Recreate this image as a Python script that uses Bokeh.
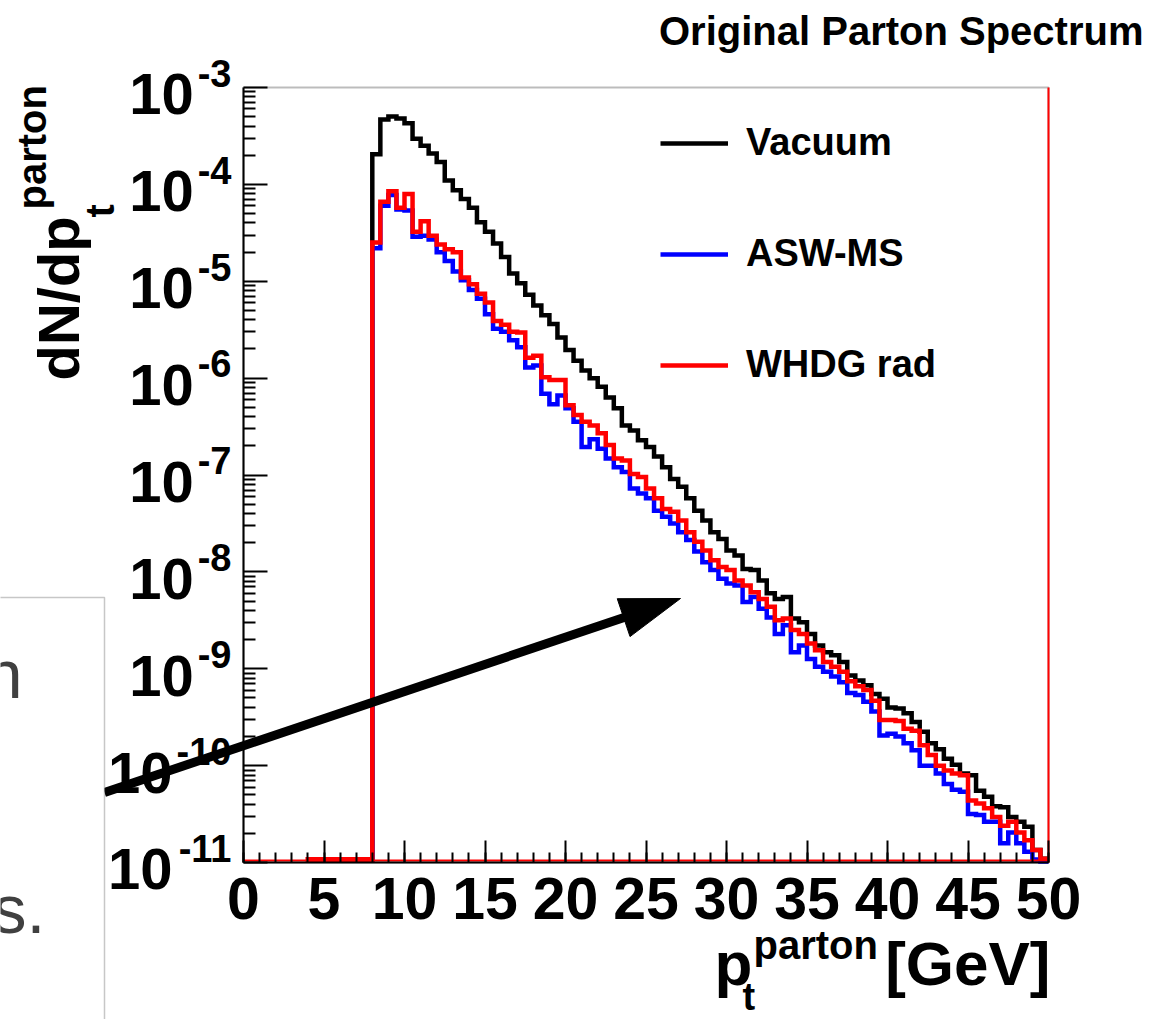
import math
from bokeh.plotting import figure
from bokeh.models import (Range1d, FixedTicker, Label, BoxAnnotation, Legend, LegendItem,
                          CustomJSTickFormatter)
from bokeh.embed import file_html
from bokeh.resources import INLINE

# ---------------- data (log10 of dN/dpt per 0.5 GeV bin) ----------------
bin_low = 8.0
bin_width = 0.5
n_bins = 84

vacuum_log10 = [
    -3.69, -3.33, -3.30, -3.32, -3.37, -3.53, -3.60, -3.68, -3.77, -3.96,
    -4.06, -4.15, -4.24, -4.39, -4.49, -4.61, -4.75, -4.92, -5.02, -5.14,
    -5.25, -5.35, -5.44, -5.58, -5.71, -5.82, -5.92, -6.00, -6.09, -6.20,
    -6.31, -6.49, -6.54, -6.64, -6.71, -6.81, -6.92, -7.04, -7.12, -7.24,
    -7.37, -7.47, -7.59, -7.66, -7.78, -7.83, -7.97, -7.98, -8.09, -8.22,
    -8.28, -8.26, -8.48, -8.52, -8.64, -8.76, -8.83, -8.86, -8.93, -9.07,
    -9.12, -9.17, -9.26, -9.31, -9.40, -9.41, -9.46, -9.55, -9.65, -9.77,
    -9.83, -9.93, -9.99, -10.08, -10.10, -10.26, -10.32, -10.42, -10.43, -10.53,
    -10.58, -10.63, -10.87, -10.96]

asw_ms_log10 = [
    -4.66, -4.22, -4.11, -4.26, -4.27, -4.54, -4.53, -4.57, -4.70, -4.79,
    -4.90, -4.99, -5.09, -5.18, -5.34, -5.49, -5.52, -5.61, -5.68, -5.89,
    -5.87, -6.16, -6.27, -6.18, -6.31, -6.45, -6.71, -6.63, -6.73, -6.83,
    -6.92, -6.97, -7.14, -7.19, -7.24, -7.37, -7.43, -7.50, -7.59, -7.67,
    -7.79, -7.90, -7.98, -8.07, -8.12, -8.14, -8.31, -8.26, -8.38, -8.47,
    -8.64, -8.55, -8.83, -8.76, -8.90, -8.98, -9.03, -9.08, -9.14, -9.25,
    -9.27, -9.34, -9.44, -9.69, -9.67, -9.70, -9.77, -9.84, -10.00, -10.00,
    -10.08, -10.19, -10.25, -10.27, -10.50, -10.51, -10.58, -10.58, -10.80, -10.69,
    -10.80, -10.89, -10.97, -10.99]

whdg_rad_log10 = [
    -4.60, -4.18, -4.07, -4.24, -4.10, -4.49, -4.38, -4.53, -4.62, -4.67,
    -4.70, -4.96, -5.03, -5.13, -5.22, -5.41, -5.45, -5.52, -5.53, -5.79,
    -5.77, -5.99, -6.02, -6.02, -6.28, -6.38, -6.45, -6.49, -6.57, -6.69,
    -6.83, -6.85, -6.99, -7.02, -7.14, -7.24, -7.35, -7.38, -7.47, -7.59,
    -7.69, -7.78, -7.88, -7.95, -7.98, -8.09, -8.14, -8.21, -8.28, -8.36,
    -8.50, -8.48, -8.60, -8.64, -8.74, -8.81, -8.93, -8.98, -9.03, -9.13,
    -9.18, -9.22, -9.33, -9.53, -9.53, -9.54, -9.62, -9.64, -9.79, -9.89,
    -10.00, -10.05, -10.08, -10.10, -10.36, -10.39, -10.44, -10.53, -10.62, -10.58,
    -10.69, -10.77, -10.87, -10.96]

x_ticks = [0, 5, 10, 15, 20, 25, 30, 35, 40, 45, 50]
y_exponents = [-3, -4, -5, -6, -7, -8, -9, -10, -11]
series_names = ["Vacuum", "ASW-MS", "WHDG rad"]
series_colors = ["#000000", "#0000ff", "#ff0000"]

XMIN, XMAX = 0.0, 50.0
YMIN, YMAX = 1e-11, 1e-3
FONT = "Liberation Sans"
W, H = 1152, 1019

# ---------------- page pixel -> data coordinate (the frame covers the whole canvas) ----------------
FR_L, FR_R, FR_T, FR_B = 243.0, 1048.0, 87.0, 862.0   # edges of the plot box in page pixels
PX_PER_DEC = (FR_B - FR_T) / 8.0
MID = 0.3465   # distance (in em) from the alphabetic baseline up to the middle of the text box


def X(wx):
    return XMIN + (wx - FR_L) / (FR_R - FR_L) * (XMAX - XMIN)


def Y(wy):
    return 10 ** (-3 - (wy - FR_T) / PX_PER_DEC)


def step_path(logvals):
    edges = [bin_low + bin_width * i for i in range(n_bins + 1)]
    xs, ys = [edges[0]], [YMIN]
    for i, lv in enumerate(logvals):
        v = 10 ** lv
        xs += [edges[i], edges[i + 1]]
        ys += [v, v]
    return xs, ys


# ---------------- figure ----------------
p = figure(width=W, height=H, x_range=Range1d(X(0), X(W)), y_range=Range1d(Y(H), Y(0)),
           y_axis_type="log", output_backend="svg", toolbar_location=None,
           min_border=0, min_border_left=0, min_border_right=0, min_border_top=0, min_border_bottom=0)
p.title = None
p.grid.visible = False
p.outline_line_color = None
p.background_fill_color = "white"
p.border_fill_color = "white"

# plot box (drawn beneath the histograms)
p.add_layout(BoxAnnotation(left=XMIN, right=XMAX, bottom=YMIN, top=YMAX, fill_alpha=0,
                           line_color="#222222", line_width=2, level="underlay"))

xa = p.xaxis[0]
xa.fixed_location = YMIN
xa.bounds = (XMIN, XMAX)
xa.ticker = FixedTicker(ticks=x_ticks, minor_ticks=list(range(0, 51)))
xa.major_tick_in = 22
xa.major_tick_out = 0
xa.minor_tick_in = 10
xa.minor_tick_out = 0
xa.major_tick_line_width = 2
xa.minor_tick_line_width = 2
xa.axis_line_width = 2
xa.major_label_text_font = FONT
xa.major_label_text_font_style = "bold"
xa.major_label_text_font_size = "59px"
xa.major_label_text_color = "black"
xa.major_label_standoff = 15

ya = p.yaxis[0]
ya.fixed_location = XMIN
ya.bounds = (YMIN, YMAX)
ya.ticker = FixedTicker(ticks=[10.0 ** e for e in y_exponents],
                        minor_ticks=[m * 10.0 ** e for e in range(-11, -3) for m in range(2, 10)])
ya.major_tick_in = 24
ya.major_tick_out = 0
ya.minor_tick_in = 12
ya.minor_tick_out = 0
ya.major_tick_line_width = 2
ya.minor_tick_line_width = 2
ya.axis_line_width = 2
ya.formatter = CustomJSTickFormatter(code="return ''")

# ---------------- histograms ----------------
renderers = []
for logs, col in zip([vacuum_log10, asw_ms_log10, whdg_rad_log10], series_colors):
    xs, ys = step_path(logs)
    r = p.line(xs, ys, line_color=col, line_width=4.5, line_join="miter")
    renderers.append(r)

# red histogram outline along the empty part of the range and at the right edge
lift2 = 10 ** (2.0 / PX_PER_DEC)
lift3 = 10 ** (3.0 / PX_PER_DEC)
p.line([XMIN, XMAX], [YMIN * lift2, YMIN * lift2], line_color="#ff0000", line_width=2)
p.line([3.85, bin_low], [YMIN * lift3, YMIN * lift3], line_color="#ff0000", line_width=5)
p.line([XMAX, XMAX], [YMIN, YMAX], line_color="#ff0000", line_width=2)

legend = Legend(items=[LegendItem(label=n, renderers=[r]) for n, r in zip(series_names, renderers)],
                location=(660, 633), glyph_width=68, glyph_height=40, label_height=40,
                spacing=68, padding=0, margin=0, label_standoff=18,
                label_text_font=FONT, label_text_font_style="bold", label_text_font_size="38px",
                label_text_color="black", border_line_color=None, background_fill_alpha=0)
p.add_layout(legend)


# ---------------- texts (wx, wy = alphabetic baseline start in page pixels) ----------------
def lab(wx, wy, text, size, align="left", style="bold", rotated=False, color="black"):
    if rotated:
        ax, ay, ang = wx - MID * size, wy, math.pi / 2
    else:
        ax, ay, ang = wx, wy - MID * size, 0.0
    p.add_layout(Label(x=X(ax), y=Y(ay), text=text, text_font=FONT, text_font_style=style,
                       text_font_size=f"{size}px", text_align=align, text_baseline="middle",
                       angle=ang, text_color=color))


# title
lab(1143, 44, "Original Parton Spectrum", 40, align="right")

# y tick labels 10^-n
for e in y_exponents:
    ty = FR_T + (-3 - e) * PX_PER_DEC
    sup = f"-{-e}"
    supw = 38 * (0.333 + 0.556 * len(str(-e)))
    lab(231, ty - 1, sup, 38, align="right")
    lab(231 - supw - 4, ty + 27, "10", 58, align="right")

# y axis title  dN/dp_t^parton (rotated, reading upwards)
lab(78, 380, "dN/dp", 58, rotated=True)
lab(113, 217, "t", 40, rotated=True)
lab(45, 209, "parton", 40, rotated=True)

# x axis title  p_t^parton [GeV]
lab(1050, 984, "[GeV]", 62, align="right")
lab(714, 984, "p", 62)
lab(753, 958, "parton", 40)
lab(742, 1010, "t", 38)

# overlay box of the slide with cut-off text
p.add_layout(BoxAnnotation(left=X(-60), right=X(104), top=Y(597), bottom=Y(1100),
                           fill_color="white", fill_alpha=1.0, line_color="#444444", line_width=1.5))
lab(22, 697, "n", 68, style="normal", align="right", color="#404040")
lab(45, 932, "s.", 68, style="normal", align="right", color="#404040")

# arrow: shaft + head
tail = (104.0, 792.0)
tip = (680.0, 598.0)
dxp, dyp = tip[0] - tail[0], tip[1] - tail[1]
ln = math.hypot(dxp, dyp)
ux, uy = dxp / ln, dyp / ln
head_len, head_half = 60.0, 20.0
bx, by = tip[0] - head_len * ux, tip[1] - head_len * uy
p.line([X(tail[0]), X(bx + 2 * ux)], [Y(tail[1]), Y(by + 2 * uy)], line_color="black",
       line_width=9, line_cap="butt")
head_px = [(tip[0], tip[1]), (bx - head_half * uy, by + head_half * ux),
           (bx + head_half * uy, by - head_half * ux)]
p.patch([X(a) for a, b in head_px], [Y(b) for a, b in head_px], fill_color="black",
        line_color="black", line_width=1)

open("out.html", "w").write(file_html(p, INLINE))
